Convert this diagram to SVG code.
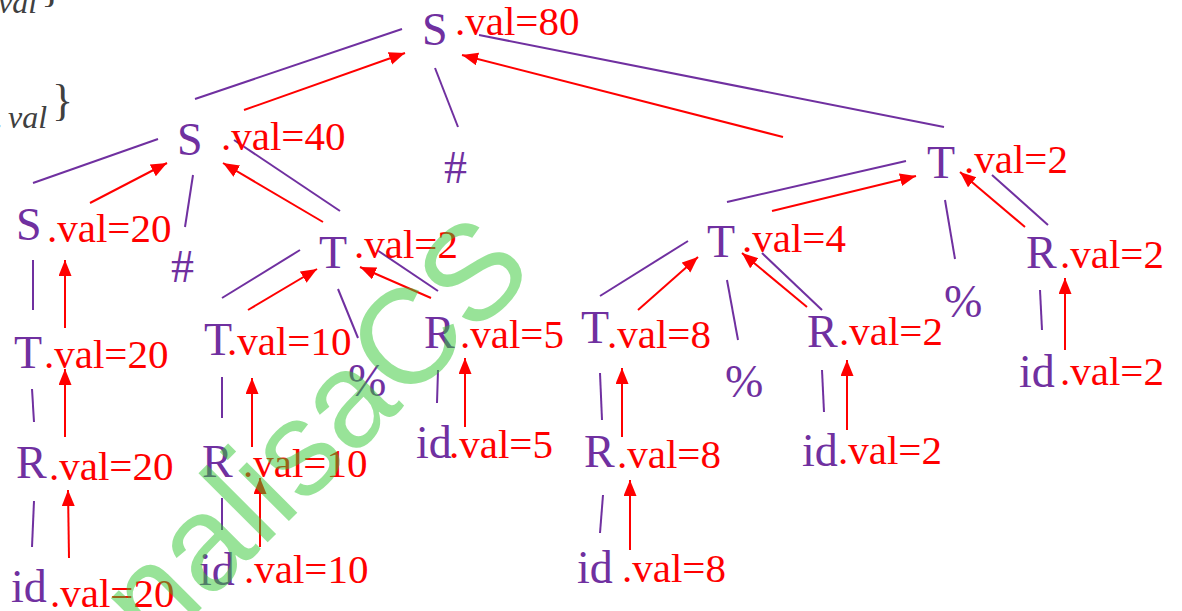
<svg xmlns="http://www.w3.org/2000/svg" width="1182" height="611" viewBox="0 0 1182 611">
<style>
.p{font-family:"Liberation Serif","Times New Roman",serif;font-size:46px;fill:#7030A0}
.r{font-family:"Liberation Serif","Times New Roman",serif;font-size:41px;fill:#FF0000}
.g{font-family:"Liberation Serif","Times New Roman",serif;fill:#404040}
.e{stroke:#7030A0;stroke-width:2;fill:none}
.a{stroke:#FF0000;stroke-width:2;fill:none;marker-end:url(#ah)}
.w{font-family:"Liberation Sans",Arial,sans-serif;font-size:135px;fill:#32C832;fill-opacity:0.5}
</style>
<defs>
<marker id="ah" markerUnits="strokeWidth" markerWidth="8" markerHeight="7" refX="8" refY="3.25" orient="auto">
<path d="M0,0 L8,3.25 L0,6.5 Z" fill="#FF0000"/>
</marker>
</defs>
<g id="fragments">
<text class="g" x="-2" y="13" font-size="32" font-style="italic">val</text>
<text class="g" x="41" y="1" font-size="44">}</text>
<text class="g" x="-5" y="128" font-size="32" font-style="italic">.</text>
<text class="g" x="8" y="128" font-size="32" font-style="italic">val</text>
<text class="g" x="52" y="115" font-size="44">}</text>
</g>
<g id="connectors">
<line class="e" x1="195" y1="99" x2="402" y2="29"/>
<line class="e" x1="435" y1="68" x2="458" y2="127"/>
<line class="e" x1="479" y1="35" x2="944" y2="127"/>
<line class="e" x1="33" y1="183" x2="158" y2="139"/>
<line class="e" x1="193" y1="175" x2="185" y2="227"/>
<line class="e" x1="234" y1="140" x2="340" y2="211"/>
<line class="e" x1="33" y1="260" x2="33" y2="310"/>
<line class="e" x1="32" y1="389" x2="34" y2="422"/>
<line class="e" x1="34" y1="501" x2="32" y2="547"/>
<line class="e" x1="300" y1="250" x2="222" y2="298"/>
<line class="e" x1="338" y1="289" x2="358" y2="338"/>
<line class="e" x1="377" y1="250" x2="438" y2="291"/>
<line class="e" x1="222" y1="377" x2="222" y2="418"/>
<line class="e" x1="222" y1="498" x2="222" y2="530"/>
<line class="e" x1="438" y1="370" x2="437" y2="403"/>
<line class="e" x1="906" y1="161" x2="727" y2="202"/>
<line class="e" x1="945" y1="200" x2="955" y2="259"/>
<line class="e" x1="992" y1="175" x2="1048" y2="225"/>
<line class="e" x1="1040" y1="290" x2="1042" y2="330"/>
<line class="e" x1="688" y1="241" x2="600" y2="296"/>
<line class="e" x1="727" y1="280" x2="738" y2="340"/>
<line class="e" x1="762" y1="253" x2="822" y2="310"/>
<line class="e" x1="600" y1="373" x2="602" y2="420"/>
<line class="e" x1="822" y1="370" x2="824" y2="412"/>
<line class="e" x1="603" y1="495" x2="600" y2="533"/>

<line class="a" x1="244" y1="110" x2="405" y2="53"/>
<line class="a" x1="783" y1="137" x2="462" y2="55"/>
<line class="a" x1="90" y1="203" x2="167" y2="163"/>
<line class="a" x1="323" y1="222" x2="223" y2="163"/>
<line class="a" x1="65" y1="328" x2="65" y2="260"/>
<line class="a" x1="65" y1="437" x2="65" y2="369"/>
<line class="a" x1="69" y1="558" x2="68" y2="490"/>
<line class="a" x1="248" y1="310" x2="317" y2="269"/>
<line class="a" x1="431" y1="298" x2="360" y2="267"/>
<line class="a" x1="252" y1="447" x2="252" y2="378"/>
<line class="a" x1="260" y1="547" x2="260" y2="478"/>
<line class="a" x1="465" y1="427" x2="465" y2="358"/>
<line class="a" x1="772" y1="211" x2="916" y2="176"/>
<line class="a" x1="638" y1="310" x2="698" y2="257"/>
<line class="a" x1="807" y1="307" x2="742" y2="253"/>
<line class="a" x1="1025" y1="227" x2="960" y2="172"/>
<line class="a" x1="622" y1="437" x2="622" y2="368"/>
<line class="a" x1="630" y1="550" x2="630" y2="480"/>
<line class="a" x1="847" y1="430" x2="847" y2="360"/>
<line class="a" x1="1065" y1="350" x2="1065" y2="278"/>
</g>
<g id="n_S_root"><text class="p" x="422" y="45">S</text><text class="r" x="455" y="35">.val=80</text></g>
<g id="n_S_40"><text class="p" x="177" y="155">S</text><text class="r" x="221" y="150">.val=40</text></g>
<g id="n_hash_top"><text class="p" x="444" y="183">#</text></g>
<g id="n_T_2_right"><text class="p" x="927" y="178">T</text><text class="r" x="964" y="173">.val=2</text></g>
<g id="n_S_20"><text class="p" x="16" y="240">S</text><text class="r" x="47" y="242">.val=20</text></g>
<g id="n_hash_left"><text class="p" x="171" y="282">#</text></g>
<g id="n_T_2_mid"><text class="p" x="319" y="268">T</text><text class="r" x="354" y="258">.val=2</text></g>
<g id="n_T_10"><text class="p" x="204" y="355">T</text><text class="r" x="227" y="355">.val=10</text></g>
<g id="n_T_20"><text class="p" x="14" y="368">T</text><text class="r" x="44" y="368">.val=20</text></g>
<g id="n_R_5"><text class="p" x="424" y="348">R</text><text class="r" x="460" y="348">.val=5</text></g>
<g id="n_id_5"><text class="p" x="416" y="458">id</text><text class="r" x="449" y="458">.val=5</text></g>
<g id="n_pct_mid"><text class="p" x="348" y="396">%</text></g>
<g id="n_R_10"><text class="p" x="202" y="477">R</text><text class="r" x="243" y="477">.val=10</text></g>
<g id="n_id_10"><text class="p" x="199" y="585">id</text><text class="r" x="244" y="583">.val=10</text></g>
<g id="n_R_20"><text class="p" x="16" y="478">R</text><text class="r" x="49" y="480">.val=20</text></g>
<g id="n_id_20"><text class="p" x="11" y="602">id</text><text class="r" x="50" y="607">.val=20</text></g>
<g id="n_T_4"><text class="p" x="707" y="257">T</text><text class="r" x="742" y="252">.val=4</text></g>
<g id="n_T_8"><text class="p" x="581" y="343">T</text><text class="r" x="607" y="348">.val=8</text></g>
<g id="n_pct_T4"><text class="p" x="725" y="397">%</text></g>
<g id="n_R_2_mid"><text class="p" x="807" y="347">R</text><text class="r" x="839" y="345">.val=2</text></g>
<g id="n_R_8"><text class="p" x="584" y="467">R</text><text class="r" x="617" y="468">.val=8</text></g>
<g id="n_id_8"><text class="p" x="577" y="583">id</text><text class="r" x="622" y="582">.val=8</text></g>
<g id="n_id_2_mid"><text class="p" x="802" y="466">id</text><text class="r" x="838" y="464">.val=2</text></g>
<g id="n_pct_right"><text class="p" x="944" y="317">%</text></g>
<g id="n_R_2_right"><text class="p" x="1026" y="268">R</text><text class="r" x="1060" y="268">.val=2</text></g>
<g id="n_id_2_right"><text class="p" x="1019" y="387">id</text><text class="r" x="1060" y="385">.val=2</text></g>
<g id="watermark"><text class="w" transform="translate(155,655) rotate(-45)">nalisaCS</text></g>
</svg>
